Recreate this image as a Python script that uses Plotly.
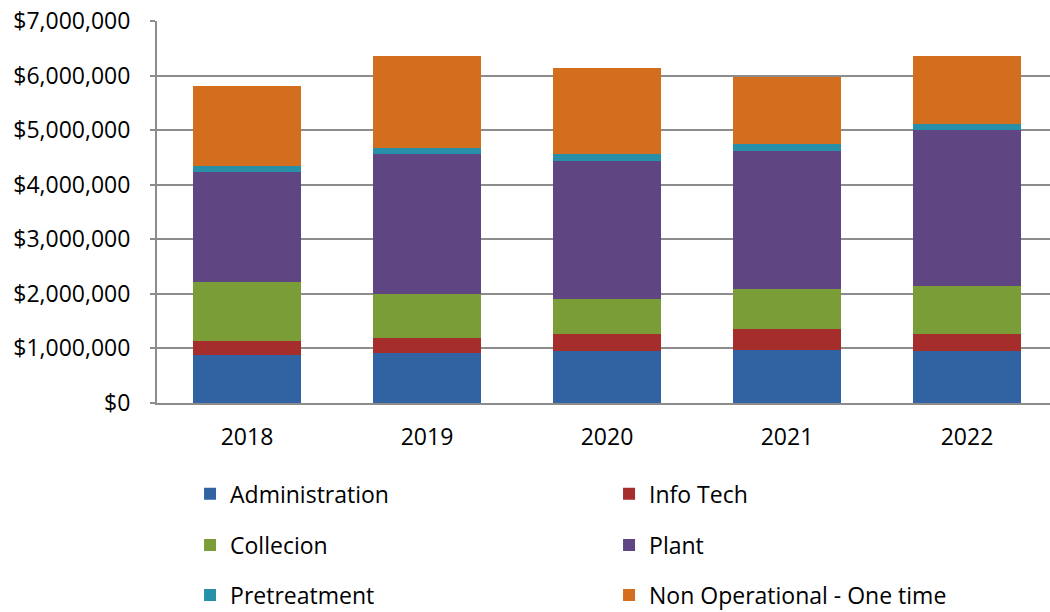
import plotly.graph_objects as go

years = ["2018", "2019", "2020", "2021", "2022"]
administration = [885000, 920000, 957000, 976000, 957000]
info_tech = [255000, 275000, 310000, 384000, 311000]
collecion = [1077000, 803000, 640000, 730000, 877000]
plant = [2013000, 2560000, 2535000, 2520000, 2855000]
pretreatment = [120000, 120000, 130000, 130000, 120000]
non_operational = [1460000, 1680000, 1570000, 1240000, 1240000]

series = [
    ("Administration", administration, "#3163A3", "legend"),
    ("Info Tech", info_tech, "#A52E2C", "legend"),
    ("Collecion", collecion, "#7B9D37", "legend2"),
    ("Plant", plant, "#5F4582", "legend2"),
    ("Pretreatment", pretreatment, "#2790A8", "legend3"),
    ("Non Operational - One time", non_operational, "#D36E1E", "legend3"),
]

FONT = "Open Sans"
fig = go.Figure()
for name, vals, color, lg in series:
    fig.add_trace(go.Bar(
        x=years, y=vals, name=name, legend=lg,
        marker=dict(color=color, line=dict(width=0)),
    ))

legend_common = dict(
    orientation="h", xanchor="left", yanchor="middle",
    traceorder="normal",
    entrywidth=374, entrywidthmode="pixels",
    font=dict(family=FONT, size=23, color="#000000"),
    bgcolor="rgba(0,0,0,0)", borderwidth=0, itemclick=False,
)

fig.update_layout(
    width=1050, height=612,
    barmode="stack", bargap=0.4, hovermode=False,
    paper_bgcolor="white", plot_bgcolor="white",
    margin=dict(l=157, r=0, t=21, b=209, autoexpand=False),
    font=dict(family=FONT, size=23, color="#000000"),
    showlegend=True,
    legend=dict(x=0.037, y=-0.238, **legend_common),
    legend2=dict(x=0.037, y=-0.372, **legend_common),
    legend3=dict(x=0.037, y=-0.503, **legend_common),
    xaxis=dict(
        range=[-0.5, 4.461], showgrid=False, zeroline=False, automargin=False,
        showline=True, linecolor="#8C8C8C", linewidth=2,
        ticks="", ticklabelstandoff=12, ticklabeloverflow="allow",
        tickfont=dict(family=FONT, size=23, color="#000000"),
    ),
    yaxis=dict(
        range=[0, 7000000], dtick=1000000, tickprefix="$", tickformat=",.0f",
        showgrid=True, gridcolor="#8C8C8C", gridwidth=2, automargin=False,
        zeroline=False, showline=True, linecolor="#8C8C8C", linewidth=2,
        ticks="outside", ticklen=5, tickcolor="#8C8C8C", tickwidth=2,
        ticklabelstandoff=15, ticklabeloverflow="allow",
        tickfont=dict(family=FONT, size=23, color="#000000"),
    ),
)

# remove the browser's default 8px body margin so the figure fills the window
fig.write_html(
    "out.html",
    config={"displayModeBar": False, "staticPlot": True},
    post_script="document.body.style.margin='0';",
)
